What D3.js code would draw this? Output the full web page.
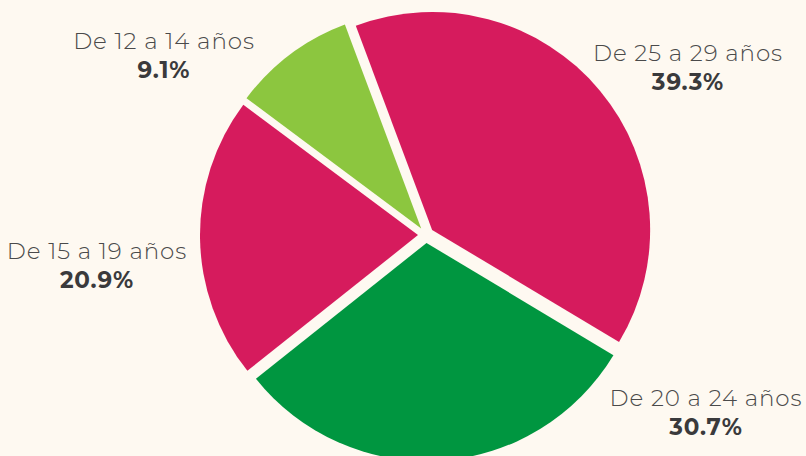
<!DOCTYPE html>
<html>
<head>
<meta charset="utf-8">
<title>Edades</title>
<script src="https://d3js.org/d3.v7.min.js"></script>
<style>
html, body {
    margin: 0;
    padding: 0;
    background: #fef9f1;
}
svg {
    display: block;
    font-family: "Montserrat", "Open Sans", sans-serif;
}
.lbl {
    font-size: 23px;
    font-weight: 300;
    letter-spacing: 0.9px;
    fill: #4a4a4a;
}
.pct {
    font-size: 23px;
    font-weight: 700;
    letter-spacing: 0.9px;
    fill: #3a3a3c;
}
</style>
</head>
<body>
<script>
// datos
var groups = ["De 25 a 29 años", "De 20 a 24 años", "De 15 a 19 años", "De 12 a 14 años"];
var shares = [39.3, 30.7, 20.9, 9.1];
var colors = ["#d61b5d", "#009640", "#d61b5d", "#8cc63f"];

// where each label sits (centre of text block)
var labelAnchors = [[688, 61], [706, 406], [97, 259], [164, 49]];

var width = 806, height = 456;
var cx = 426, cy = 235;
var radius = 218;
var explode = 8;
var start = -20.5 * Math.PI / 180;

var svg = d3.select("body").append("svg")
    .attr("width", width)
    .attr("height", height);

svg.append("rect")
    .attr("width", width)
    .attr("height", height)
    .attr("fill", "#fef9f1");

var pie = d3.pie()
    .sort(null)
    .startAngle(start)
    .endAngle(start + 2 * Math.PI)
    .value(function(d) { return d; });

var arc = d3.arc()
    .innerRadius(0)
    .outerRadius(radius);

var slices = pie(shares);

var g = svg.append("g")
    .attr("transform", "translate(" + cx + "," + cy + ")");

g.selectAll("path")
    .data(slices)
    .enter()
    .append("path")
    .attr("d", arc)
    .attr("fill", function(d, i) { return colors[i]; })
    .attr("transform", function(d) {
        var mid = (d.startAngle + d.endAngle) / 2;
        return "translate(" + (explode * Math.sin(mid)) + "," + (-explode * Math.cos(mid)) + ")";
    });

var labels = svg.selectAll("g.label")
    .data(groups)
    .enter()
    .append("g")
    .attr("class", "label")
    .attr("transform", function(d, i) {
        return "translate(" + labelAnchors[i][0] + "," + labelAnchors[i][1] + ")";
    });

labels.append("text")
    .attr("class", "lbl")
    .attr("text-anchor", "middle")
    .text(function(d) { return d; });

labels.append("text")
    .attr("class", "pct")
    .attr("text-anchor", "middle")
    .attr("y", 29)
    .text(function(d, i) { return shares[i].toFixed(1) + "%"; });
</script>
</body>
</html>
